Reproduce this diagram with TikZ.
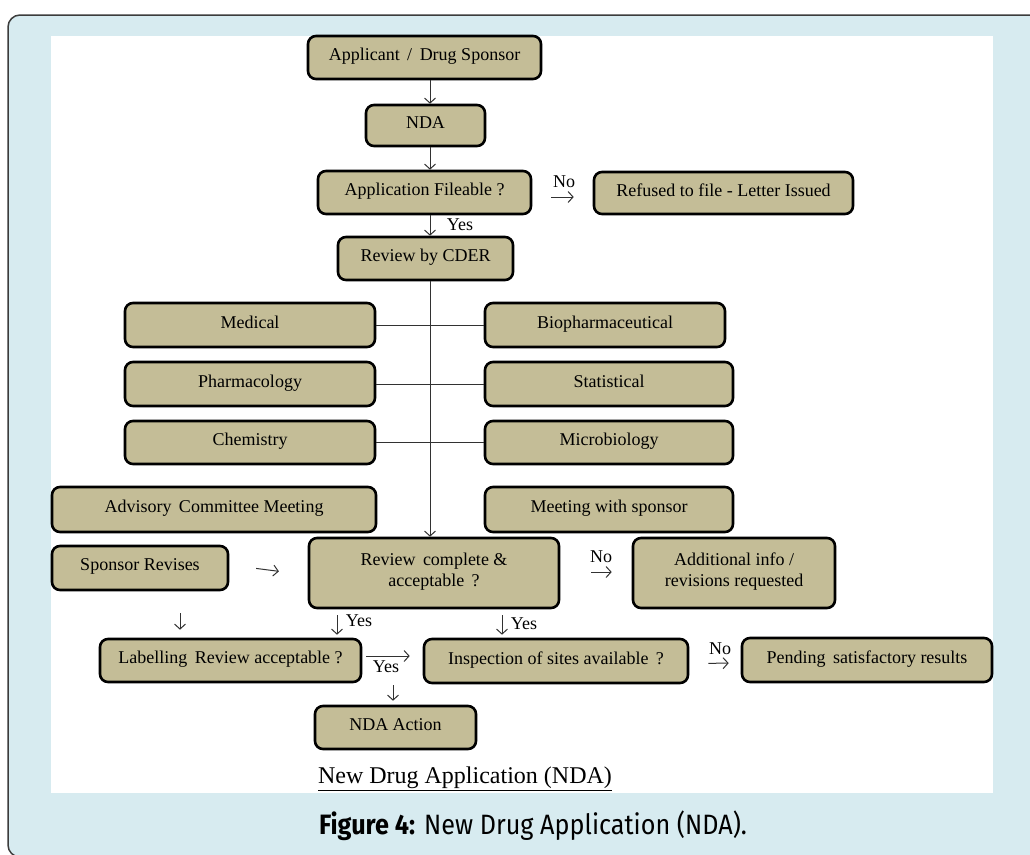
\documentclass[tikz,border=0pt]{standalone}
\usepackage{fontspec}
\setmainfont{Liberation Serif}
\newfontfamily\capfont[FakeStretch=0.9]{Fira Sans}
\usetikzlibrary{arrows.meta}
\definecolor{panelblue}{RGB}{215,235,240}
\definecolor{boxtan}{RGB}{196,189,151}
\definecolor{framegray}{RGB}{60,60,60}
\definecolor{linegray}{RGB}{50,50,50}
\tikzset{
  box/.style={draw=black, fill=boxtan, line width=2.6pt, rounded corners=8pt,
    font=\fontsize{18}{21}\selectfont, align=center, inner sep=0pt, text depth=6pt},
  arr/.style={draw=linegray, line width=1pt, -{Straight Barb[length=5pt,width=11pt]}},
  link/.style={draw=linegray, line width=1pt},
  lbl/.style={font=\fontsize{18}{20}\selectfont, inner sep=0pt}
}
\begin{document}
\begin{tikzpicture}[x=1pt,y=-1pt]
\useasboundingbox (0,0) rectangle (1030,854);
% outer frame and white panel
\begin{scope}
\clip (0,0) rectangle (1030,854);
\draw[fill=panelblue, draw=framegray, line width=1.5pt, rounded corners=12pt] (8,15) rectangle (1060,857);
\end{scope}
\fill[white] (51,36) rectangle (993,793);

% main column
\node[box, minimum width=233pt, minimum height=43pt] (app) at (424.5,57.5) {Applicant \,/\, Drug Sponsor};
\node[box, minimum width=119pt, minimum height=41pt] (nda) at (425.5,125.5) {NDA};
\node[box, minimum width=213pt, minimum height=43pt] (file) at (424.5,192.5) {Application Fileable ?};
\node[box, minimum width=259pt, minimum height=42pt] (refused) at (723.5,193) {Refused to file - Letter Issued};
\node[box, minimum width=175pt, minimum height=43pt] (cder) at (425.5,258.5) {Review by CDER};

% review disciplines
\node[box, minimum width=250pt, minimum height=44pt] (med) at (250,325) {Medical};
\node[box, minimum width=240pt, minimum height=44pt] (bio) at (605,325) {Biopharmaceutical};
\node[box, minimum width=250pt, minimum height=44pt] (pharm) at (250,384) {Pharmacology};
\node[box, minimum width=248pt, minimum height=44pt] (stat) at (609,384) {Statistical};
\node[box, minimum width=250pt, minimum height=43pt] (chem) at (250,442.5) {Chemistry};
\node[box, minimum width=248pt, minimum height=43pt] (micro) at (609,442.5) {Microbiology};
\node[box, minimum width=324pt, minimum height=45pt] (adv) at (214,509.5) {Advisory \,Committee Meeting};
\node[box, minimum width=248pt, minimum height=45pt] (meet) at (609,509.5) {Meeting with sponsor};

% decision stage
\node[box, minimum width=176pt, minimum height=44pt] (spons) at (140,568) {Sponsor Revises};
\node[box, minimum width=250pt, minimum height=70pt] (rev) at (434,573) {Review \,complete \&\\acceptable \,?};
\node[box, minimum width=202pt, minimum height=70pt] (addl) at (734,573) {Additional info /\\revisions requested};
\node[box, minimum width=261pt, minimum height=43pt] (label) at (230.5,660.5) {Labelling \,Review acceptable ?};
\node[box, minimum width=264pt, minimum height=44pt] (insp) at (556,661) {Inspection of sites available \,?};
\node[box, minimum width=250pt, minimum height=44pt] (pend) at (867,660) {Pending \,satisfactory results};
\node[box, minimum width=161pt, minimum height=43pt] (action) at (395.5,727.5) {NDA Action};

% connectors of the main column
\draw[arr] ([xshift=5.5pt]app.south) -- ([xshift=5.5pt]app.south |- nda.north);
\draw[arr] ([xshift=4.5pt]nda.south) -- ([xshift=4.5pt]nda.south |- file.north);
\draw[arr] ([xshift=5.5pt]file.south) -- ([xshift=5.5pt]file.south |- cder.north);
\node[lbl] (yes1) at (460,225) {Yes};
\draw[arr, shorten <=19pt, shorten >=19pt] ([yshift=-4.5pt]file.east) -- ([yshift=-4pt]refused.west);
\node[lbl] (no1) at (564,182) {No};
\draw[arr] ([xshift=4.5pt]cder.south) -- ([xshift=-4pt]rev.north);

% discipline links
\draw[link] (med.east) -- (bio.west);
\draw[link] (pharm.east) -- (stat.west);
\draw[link] (chem.east) -- (micro.west);

% decision arrows
\draw[arr, shorten <=27pt, shorten >=29pt] ([yshift=3pt]spons.east) -- ([yshift=-2pt]rev.west);
\draw[arr, shorten <=31pt, shorten >=20pt] ([yshift=1pt]rev.east) -- ([yshift=1pt]addl.west);
\node[lbl] (no2) at (601,557) {No};
\draw[arr, shorten <=22pt, shorten >=8pt] ([xshift=40pt]spons.south) -- ([xshift=40pt]spons.south |- label.north);
\draw[arr, shorten <=6pt, shorten >=3pt] ([xshift=-97pt]rev.south) -- ([xshift=-97pt]rev.south |- label.north);
\node[lbl] (yes2) at (359,621) {Yes};
\draw[arr, shorten <=6pt, shorten >=3pt] ([xshift=68pt]rev.south) -- ([xshift=68pt]rev.south |- insp.north);
\node[lbl] (yes3) at (524,624) {Yes};
\draw[arr, shorten <=4pt, shorten >=13pt] ([yshift=4.5pt]label.east) -- ([yshift=5pt]insp.west);
\node[lbl] (yes4) at (386,667) {Yes};
\draw[arr, shorten <=19pt, shorten >=12pt] ([yshift=-2.5pt]insp.east) -- ([yshift=-3pt]pend.west);
\node[lbl] (no3) at (720,649) {No};
\draw[arr, shorten <=2pt, shorten >=4pt] ([xshift=162.5pt]label.south) -- ([xshift=162.5pt]label.south |- action.north);

% titles
\node[font=\fontsize{24}{28}\selectfont, inner sep=0pt] (title) at (465,779) {\underline{New Drug Application (NDA)}};
\node[font=\capfont\fontsize{28}{32}\selectfont, inner sep=0pt] (caption) at (533,826) {\textbf{Figure 4:} New Drug Application (NDA).};
\end{tikzpicture}
\end{document}
